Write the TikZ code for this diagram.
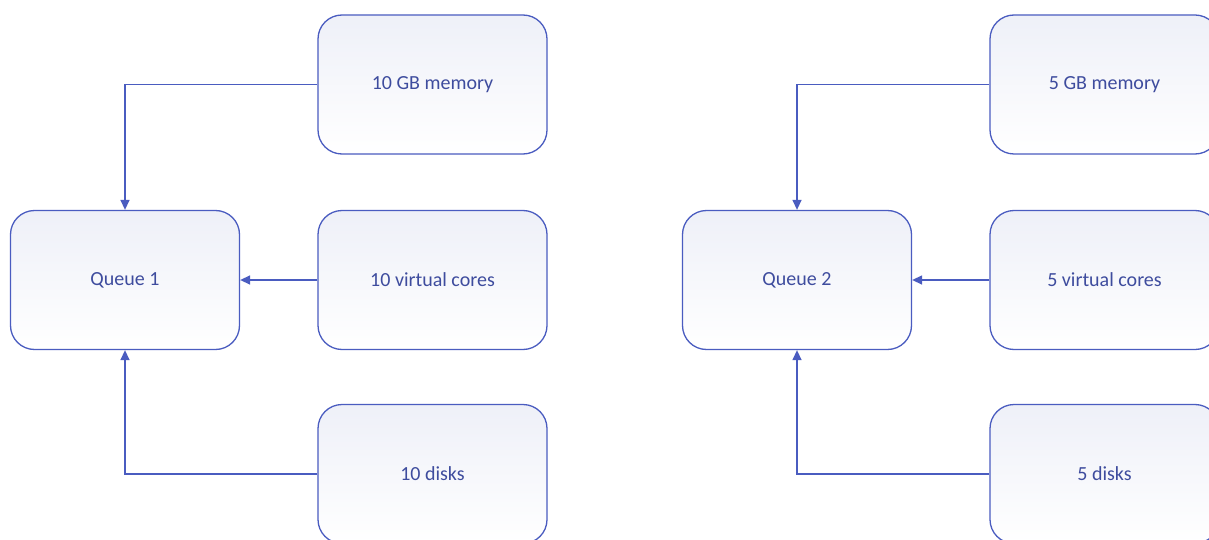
\documentclass[tikz,border=0pt]{standalone}
\usepackage{fontspec}
\setmainfont{Carlito}
\usetikzlibrary{arrows.meta}
\definecolor{edgeblue}{HTML}{4A5CC0}
\definecolor{textblue}{HTML}{3E4C9E}
\definecolor{fillblue}{HTML}{EEF0F8}
\tikzset{
  box/.style={rectangle, rounded corners=24pt, draw=edgeblue, line width=1.3pt,
    top color=fillblue, bottom color=white, minimum width=229pt, minimum height=139pt,
    text=textblue, font=\fontsize{20}{24}\selectfont, inner sep=0pt},
  link/.style={draw=edgeblue, line width=1.4pt, -{Triangle[length=10pt,width=9pt]}}
}
\begin{document}
\begin{tikzpicture}[x=1pt,y=-1pt]
\clip (0,0) rectangle (1209,540);
\fill[white] (0,0) rectangle (1209,540);
% left group
\node[box] (q1) at (125,280) {Queue 1};
\node[box] (m1) at (432.5,84.5) {10 GB memory};
\node[box] (c1) at (432.5,280) {10 virtual cores};
\node[box] (d1) at (432.5,474) {10 disks};
\draw[link] (m1.west) -| (q1.north);
\draw[link] (c1.west) -- (q1.east);
\draw[link] (d1.west) -| (q1.south);
% right group
\node[box] (q2) at (797,280) {Queue 2};
\node[box] (m2) at (1104.5,84.5) {5 GB memory};
\node[box] (c2) at (1104.5,280) {5 virtual cores};
\node[box] (d2) at (1104.5,474) {5 disks};
\draw[link] (m2.west) -| (q2.north);
\draw[link] (c2.west) -- (q2.east);
\draw[link] (d2.west) -| (q2.south);
\end{tikzpicture}
\end{document}
